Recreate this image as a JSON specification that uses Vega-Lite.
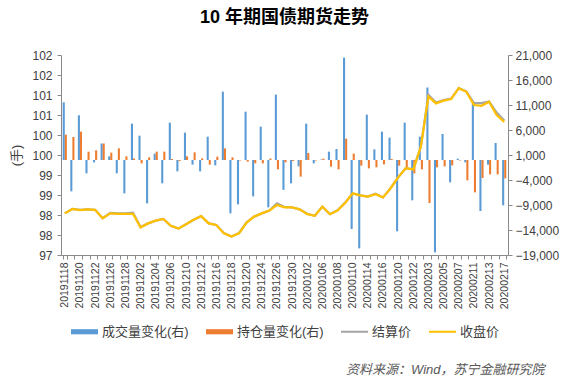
{
  "$schema": "https://vega.github.io/schema/vega-lite/v6.json",
  "width": 447,
  "height": 200,
  "autosize": {"type": "none"},
  "padding": {"left": 61, "top": 55, "right": 64, "bottom": 129},
  "title": {"text": "10 年期国债期货走势", "fontSize": 18, "fontWeight": "bold", "color": "#000000", "font": "Liberation Sans, Noto Sans CJK SC", "offset": 22, "anchor": "middle"},
  "data": {"values": [
    {"date": "20191118", "vol": 11540, "oi": 5070, "settle": 98.04, "close": 98.04},
    {"date": "20191119", "vol": -6270, "oi": 4600, "settle": 98.15, "close": 98.15},
    {"date": "20191120", "vol": 8940, "oi": 5670, "settle": 98.13, "close": 98.12},
    {"date": "20191121", "vol": -2670, "oi": 1670, "settle": 98.14, "close": 98.14},
    {"date": "20191122", "vol": -470, "oi": 1930, "settle": 98.13, "close": 98.13},
    {"date": "20191125", "vol": 3300, "oi": 3300, "settle": 97.92, "close": 97.92},
    {"date": "20191126", "vol": 730, "oi": 1470, "settle": 98.05, "close": 98.04},
    {"date": "20191127", "vol": -2670, "oi": 2330, "settle": 98.04, "close": 98.03},
    {"date": "20191128", "vol": -6670, "oi": 730, "settle": 98.04, "close": 98.03},
    {"date": "20191129", "vol": 7270, "oi": 300, "settle": 98.06, "close": 98.03},
    {"date": "20191202", "vol": 4870, "oi": -670, "settle": 97.70, "close": 97.69},
    {"date": "20191203", "vol": -8670, "oi": 530, "settle": 97.79, "close": 97.79},
    {"date": "20191204", "vol": 1270, "oi": 1670, "settle": 97.86, "close": 97.86},
    {"date": "20191205", "vol": -4670, "oi": 1670, "settle": 97.90, "close": 97.90},
    {"date": "20191206", "vol": 7470, "oi": 200, "settle": 97.73, "close": 97.73},
    {"date": "20191209", "vol": -2270, "oi": -200, "settle": 97.66, "close": 97.66},
    {"date": "20191210", "vol": 5470, "oi": 730, "settle": 97.77, "close": 97.77},
    {"date": "20191211", "vol": -930, "oi": 1530, "settle": 97.88, "close": 97.88},
    {"date": "20191212", "vol": -2270, "oi": 330, "settle": 97.97, "close": 97.97},
    {"date": "20191213", "vol": 4670, "oi": -930, "settle": 97.79, "close": 97.79},
    {"date": "20191216", "vol": -1070, "oi": 670, "settle": 97.75, "close": 97.75},
    {"date": "20191217", "vol": 13670, "oi": 2330, "settle": 97.55, "close": 97.54},
    {"date": "20191218", "vol": -10670, "oi": 530, "settle": 97.46, "close": 97.46},
    {"date": "20191219", "vol": -8870, "oi": -100, "settle": 97.55, "close": 97.54},
    {"date": "20191220", "vol": 9670, "oi": -330, "settle": 97.82, "close": 97.81},
    {"date": "20191223", "vol": -7270, "oi": -670, "settle": 97.96, "close": 97.96},
    {"date": "20191224", "vol": 6670, "oi": -670, "settle": 98.04, "close": 98.04},
    {"date": "20191225", "vol": -9470, "oi": 300, "settle": 98.11, "close": 98.11},
    {"date": "20191226", "vol": 13070, "oi": -1870, "settle": 98.29, "close": 98.25},
    {"date": "20191227", "vol": -5970, "oi": -470, "settle": 98.20, "close": 98.19},
    {"date": "20191230", "vol": -4670, "oi": -200, "settle": 98.19, "close": 98.19},
    {"date": "20191231", "vol": -1270, "oi": -3330, "settle": 98.14, "close": 98.14},
    {"date": "20200102", "vol": 7270, "oi": 1400, "settle": 98.03, "close": 98.02},
    {"date": "20200103", "vol": -670, "oi": -100, "settle": 97.98, "close": 97.98},
    {"date": "20200106", "vol": 100, "oi": 270, "settle": 98.21, "close": 98.21},
    {"date": "20200107", "vol": 1670, "oi": -1330, "settle": 98.02, "close": 98.02},
    {"date": "20200108", "vol": 2200, "oi": -1870, "settle": 98.12, "close": 98.11},
    {"date": "20200109", "vol": 20470, "oi": 4270, "settle": 98.31, "close": 98.30},
    {"date": "20200110", "vol": -13800, "oi": 1270, "settle": 98.54, "close": 98.54},
    {"date": "20200113", "vol": -17670, "oi": -1130, "settle": 98.49, "close": 98.49},
    {"date": "20200114", "vol": 9070, "oi": -1670, "settle": 98.46, "close": 98.46},
    {"date": "20200115", "vol": 2130, "oi": -1470, "settle": 98.53, "close": 98.52},
    {"date": "20200116", "vol": 5670, "oi": -870, "settle": 98.44, "close": 98.44},
    {"date": "20200117", "vol": 4470, "oi": 200, "settle": 98.67, "close": 98.67},
    {"date": "20200120", "vol": -14270, "oi": -1130, "settle": 98.94, "close": 98.94},
    {"date": "20200121", "vol": 7470, "oi": -1530, "settle": 99.17, "close": 99.17},
    {"date": "20200122", "vol": -8070, "oi": -2670, "settle": 99.14, "close": 99.14},
    {"date": "20200123", "vol": 4670, "oi": -1870, "settle": 99.71, "close": 99.71},
    {"date": "20200203", "vol": 14500, "oi": -8600, "settle": 101.00, "close": 100.96},
    {"date": "20200204", "vol": -18470, "oi": -1470, "settle": 100.81, "close": 100.79},
    {"date": "20200205", "vol": 5200, "oi": -1270, "settle": 100.87, "close": 100.86},
    {"date": "20200206", "vol": -4470, "oi": -1070, "settle": 100.91, "close": 100.90},
    {"date": "20200207", "vol": 270, "oi": -100, "settle": 101.17, "close": 101.17},
    {"date": "20200210", "vol": -470, "oi": -4070, "settle": 101.09, "close": 101.08},
    {"date": "20200211", "vol": 11300, "oi": -6470, "settle": 100.80, "close": 100.75},
    {"date": "20200212", "vol": -10200, "oi": -3600, "settle": 100.80, "close": 100.73},
    {"date": "20200213", "vol": -930, "oi": -2870, "settle": 100.84, "close": 100.83},
    {"date": "20200214", "vol": 3400, "oi": -2870, "settle": 100.56, "close": 100.50},
    {"date": "20200217", "vol": -9070, "oi": -3670, "settle": 100.36, "close": 100.33}
  ]},
  "encoding": {
    "x": {
      "field": "date", "type": "ordinal",
      "scale": {"paddingInner": 0.45, "paddingOuter": 0.225},
      "axis": {
        "title": "资料来源：Wind，苏宁金融研究院",
        "titleFont": "Liberation Sans, Noto Sans CJK SC",
        "titleFontStyle": "italic",
        "titleFontSize": 13,
        "titleFontWeight": "normal",
        "titleColor": "#595959",
        "titleX": 483,
        "titleY": 114,
        "titleAlign": "right",
        "titleBaseline": "middle",
        "labelAngle": -90,
        "labelAlign": "right",
        "labelBaseline": "middle",
        "labelFontSize": 10.5,
        "labelPadding": 3,
        "labelOverlap": false,
        "labelExpr": "indexof(['20191118','20191120','20191122','20191126','20191128','20191202','20191204','20191206','20191210','20191212','20191216','20191218','20191220','20191224','20191226','20191230','20200102','20200106','20200108','20200110','20200114','20200116','20200120','20200122','20200203','20200205','20200207','20200211','20200213','20200217'], datum.value) >= 0 ? datum.value : ''",
        "tickBand": "extent",
        "tickSize": 4
      }
    }
  },
  "layer": [
    {
      "transform": [{"fold": ["vol", "oi"], "as": ["series", "value"]}],
      "mark": {"type": "bar"},
      "encoding": {
        "xOffset": {"field": "series", "type": "nominal", "scale": {"domain": ["vol", "oi"], "paddingInner": 0, "paddingOuter": 0}},
        "y": {
          "field": "value", "type": "quantitative",
          "scale": {"domain": [-19000, 21000], "nice": false},
          "axis": {"orient": "right", "title": null, "values": [-19000, -14000, -9000, -4000, 1000, 6000, 11000, 16000, 21000], "format": ",.0f", "labelFontSize": 12, "tickSize": 4, "labelPadding": 3}
        },
        "color": {
          "field": "series", "type": "nominal",
          "scale": {"domain": ["vol", "oi", "settle", "close"], "range": ["#5B9BD5", "#ED7D31", "#A5A5A5", "#FFC000"]},
          "legend": {
            "orient": "none", "legendX": 10, "legendY": 263, "direction": "horizontal", "columns": 4,
            "title": null, "padding": 0,
            "labelFontSize": 13, "labelColor": "#404040", "labelFont": "Liberation Sans, Noto Sans CJK SC", "labelLimit": 300,
            "symbolSize": 729, "labelOffset": 4, "columnPadding": 17,
            "labelExpr": "datum.label == 'vol' ? '成交量变化(右)' : datum.label == 'oi' ? '持仓量变化(右)' : datum.label == 'settle' ? '结算价' : '收盘价'",
            "encode": {"symbols": {"update": {
              "shape": {"signal": "indexof(['vol','oi'], datum.value) >= 0 ? 'M-1,-0.19H1V0.19H-1Z' : 'M-1,-0.075H1V0.075H-1Z'"},
              "fill": {"scale": "color", "field": "value"},
              "stroke": {"value": "transparent"},
              "strokeWidth": {"value": 0},
              "opacity": {"value": 1}
            }}}
          }
        }
      }
    },
    {
      "layer": [
        {
          "mark": {"type": "line", "strokeWidth": 2.25},
          "encoding": {
            "y": {
              "field": "settle", "type": "quantitative",
              "scale": {"domain": [97, 102], "nice": false, "zero": false},
              "axis": {"orient": "left", "title": "(手)", "titleFontSize": 13, "titleFontWeight": "normal", "titleColor": "#404040", "titlePadding": 8, "values": [97, 97.5, 98, 98.5, 99, 99.5, 100, 100.5, 101, 101.5, 102], "format": ".0f", "labelFontSize": 12, "tickSize": 4, "labelPadding": 5}
            },
            "color": {"datum": "settle", "type": "nominal"}
          }
        },
        {
          "mark": {"type": "line", "strokeWidth": 2.25},
          "encoding": {
            "y": {
              "field": "close", "type": "quantitative",
              "scale": {"domain": [97, 102], "nice": false, "zero": false},
              "axis": {"orient": "left", "title": "(手)", "titleFontSize": 13, "titleFontWeight": "normal", "titleColor": "#404040", "titlePadding": 8, "values": [97, 97.5, 98, 98.5, 99, 99.5, 100, 100.5, 101, 101.5, 102], "format": ".0f", "labelFontSize": 12, "tickSize": 4, "labelPadding": 5}
            },
            "color": {"datum": "close", "type": "nominal"}
          }
        }
      ]
    }
  ],
  "resolve": {"scale": {"y": "independent"}},
  "config": {
    "font": "Liberation Sans, Noto Sans CJK SC",
    "view": {"stroke": null},
    "axis": {"grid": false, "labelFont": "Liberation Sans, Noto Sans CJK SC", "titleFont": "Liberation Sans, Noto Sans CJK SC", "labelColor": "#404040", "domainColor": "#898989", "tickColor": "#898989"}
  }
}
